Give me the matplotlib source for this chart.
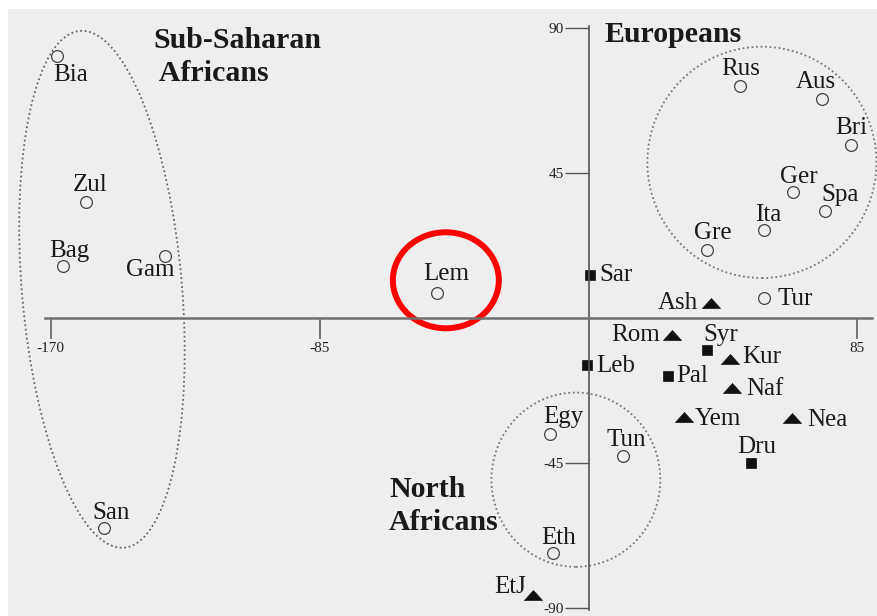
import matplotlib
matplotlib.use('Agg')
import matplotlib.pyplot as plt
from matplotlib.patches import Ellipse

plt.rcParams['font.family'] = ['Liberation Serif', 'DejaVu Serif']
plt.rcParams['axes.unicode_minus'] = False

# open circles
circ_names = ['Bia', 'Zul', 'Bag', 'Gam', 'San', 'Lem', 'Rus', 'Aus', 'Bri', 'Ger',
              'Spa', 'Ita', 'Gre', 'Tur', 'Egy', 'Tun', 'Eth']
circ_x = [-168.0, -158.9, -166.1, -133.9, -153.2, -47.9, 47.9, 73.8, 83.0, 64.6,
          74.7, 55.5, 37.5, 55.5, -12.2, 10.9, -11.2]
circ_y = [81.3, 35.9, 16.1, 19.1, -65.1, 7.6, 72.0, 67.9, 53.6, 39.0,
          33.1, 27.2, 21.0, 6.1, -35.9, -42.7, -72.9]

# filled squares
sq_names = ['Sar', 'Leb', 'Syr', 'Pal', 'Dru']
sq_x = [0.5, -0.5, 37.5, 25.1, 51.4]
sq_y = [13.2, -14.7, -9.8, -18.1, -44.9]

# filled triangles
tri_names = ['Ash', 'Rom', 'Kur', 'Naf', 'Yem', 'Nea', 'EtJ']
tri_x = [38.7, 26.5, 44.7, 45.3, 30.2, 64.3, -17.5]
tri_y = [4.8, -5.4, -12.6, -21.6, -30.6, -31.2, -86.0]

xticks = [-170, -85, 85]
yticks = [90, 45, -45, -90]

# label placement: (dx, dy) in pixels, horizontal alignment
label_pos = {
    'Bia': (14, -19, 'center'), 'Zul': (4, 17, 'center'), 'Bag': (6, 15, 'center'),
    'Gam': (-15, -14, 'center'), 'San': (7, 15, 'center'), 'Lem': (9, 19, 'center'),
    'Rus': (1, 17, 'center'), 'Aus': (-6, 17, 'center'), 'Bri': (0, 17, 'center'),
    'Ger': (6, 15, 'center'), 'Spa': (15, 16, 'center'), 'Ita': (4, 15, 'center'),
    'Gre': (6, 17, 'center'), 'Tur': (13, -1, 'left'), 'Egy': (13, 17, 'center'),
    'Tun': (3, 16, 'center'), 'Eth': (5, 15, 'center'),
    'Sar': (9, 0, 'left'), 'Leb': (9, -1, 'left'), 'Syr': (14, 15, 'center'),
    'Pal': (8, 0, 'left'), 'Dru': (6, 16, 'center'),
    'Ash': (-13, 0, 'right'), 'Rom': (-12, 0, 'right'), 'Kur': (12, 2, 'left'),
    'Naf': (14, -1, 'left'), 'Yem': (11, -2, 'left'), 'Nea': (15, -2, 'left'),
    'EtJ': (-7, 8, 'right'),
}

fig = plt.figure(figsize=(8.78, 6.16), dpi=100, facecolor='white')
ax = fig.add_axes([8 / 878, 0, 870 / 878, 607 / 616])
ax.set_facecolor('#eeeeee')
ax.set_xlim(-183.5, 91.5)
ax.set_ylim(-92.5, 95.9)

# axes through the origin
for s in ['top', 'right']:
    ax.spines[s].set_visible(False)
ax.spines['left'].set_position(('data', 0))
ax.spines['bottom'].set_position(('data', 0))
ax.spines['bottom'].set_bounds(-171.8, 89.6)
ax.spines['left'].set_bounds(-90.5, 90.5)
ax.spines['bottom'].set_color('#707070')
ax.spines['bottom'].set_linewidth(1.8)
ax.spines['left'].set_color('#555555')
ax.spines['left'].set_linewidth(1.2)
ax.set_xticks(xticks)
ax.set_yticks(yticks)
ax.set_xticklabels([str(t) for t in xticks])
ax.set_yticklabels([str(t) for t in yticks])
ax.tick_params(axis='x', direction='out', length=15, width=1.2, color='#606060',
               pad=2, labelsize=11, labelcolor='#222222')
ax.tick_params(axis='y', direction='out', length=17, width=1.0, color='#555555',
               pad=1, labelsize=11, labelcolor='#222222')

# cluster ellipses
ax.add_patch(Ellipse((-153.8, 8.9), 50.6, 161, angle=5, fill=False,
                     ls=(0, (1, 1.5)), lw=1.3, ec='#666666'))
ax.add_patch(Ellipse((54.8, 48.3), 72.4, 71.8, fill=False,
                     ls=(0, (1, 1.5)), lw=1.3, ec='#777777'))
ax.add_patch(Ellipse((-4.0, -50.2), 53.4, 54.1, fill=False,
                     ls=(0, (1, 1.5)), lw=1.3, ec='#777777'))

# markers
ax.plot(circ_x, circ_y, 'o', ms=8.5, mfc='none', mec='#444444', mew=0.9)
ax.plot(sq_x, sq_y, 's', ms=7.3, mfc='#111111', mec='#111111', mew=0.5)
tri_marker = [(-1, -0.55), (1, -0.55), (0, 0.55), (-1, -0.55)]
ax.plot(tri_x, tri_y, marker=tri_marker, ls='none', ms=13, mfc='#111111',
        mec='#111111', mew=0.5)

# point labels
for names, xs, ys in [(circ_names, circ_x, circ_y), (sq_names, sq_x, sq_y),
                      (tri_names, tri_x, tri_y)]:
    for n, x, y in zip(names, xs, ys):
        dx, dy, ha = label_pos[n]
        ax.annotate(n, (x, y), xytext=(dx, dy), textcoords='offset pixels',
                    ha=ha, va='center', fontsize=18, color='#1a1a1a')

# group labels
ax.text(-137.7, 81.0, 'Sub-Saharan\n Africans', fontsize=21.5, fontweight='bold',
        ha='left', va='center', linespacing=1.3, color='#1a1a1a')
ax.text(5.2, 88.1, 'Europeans', fontsize=21.5, fontweight='bold',
        ha='left', va='center', color='#1a1a1a')
ax.text(-63.1, -58.4, 'North\nAfricans', fontsize=21.5, fontweight='bold',
        ha='left', va='center', linespacing=1.3, color='#1a1a1a')

# red highlight ring round Lem
ax.add_patch(Ellipse((-45.1, 11.7), 33.5, 29.8, fill=False, lw=4.3, ec='#ff0000'))

fig.savefig('out.png', dpi=100, facecolor='white')
